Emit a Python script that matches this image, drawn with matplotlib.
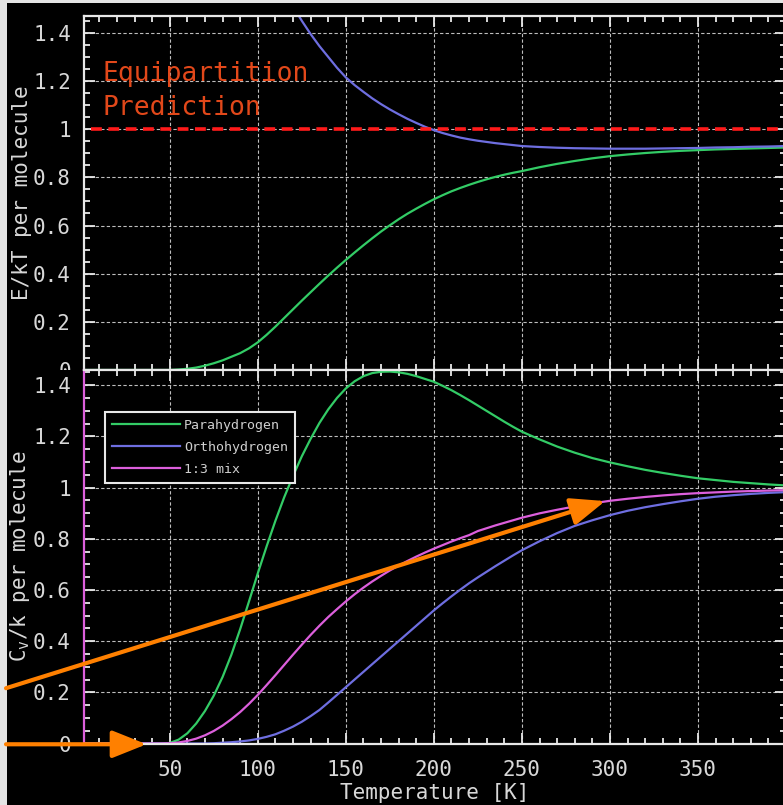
import numpy as np
import matplotlib
matplotlib.use("Agg")
import matplotlib.pyplot as plt
from matplotlib.patches import Rectangle
from matplotlib.transforms import Bbox, TransformedBbox

plt.rcParams['font.family'] = 'DejaVu Sans Mono'
plt.rcParams['mathtext.fontset'] = 'custom'
plt.rcParams['mathtext.rm'] = 'DejaVu Sans Mono'
plt.rcParams['mathtext.it'] = 'DejaVu Sans Mono'

# temperature grid [K]: 5 K steps below 250 K, 10 K above
T = np.concatenate([np.arange(0, 250, 5), np.arange(250, 401, 10)])

# rotational energy per molecule, E/kT
E_para = [0, 0, 0, 0, 0, 0, 0, 0, 0, 0,
          0.0, 0.002, 0.005, 0.01, 0.018, 0.028, 0.04, 0.055, 0.07, 0.09,
          0.115, 0.146, 0.18, 0.216, 0.252, 0.288, 0.323, 0.358, 0.392, 0.425,
          0.457, 0.488, 0.518, 0.547, 0.575, 0.601, 0.626, 0.649, 0.67, 0.69,
          0.709, 0.726, 0.742, 0.756, 0.769, 0.781, 0.792, 0.802, 0.811, 0.819,
          0.826, 0.842, 0.856, 0.868, 0.879, 0.888, 0.895, 0.901, 0.906, 0.91,
          0.913, 0.916, 0.918, 0.92, 0.922, 0.924]
T_ortho_E = np.concatenate([np.arange(115, 250, 5), np.arange(250, 401, 10)])
E_ortho = [1.58, 1.51, 1.45, 1.395, 1.345, 1.30, 1.255, 1.215, 1.183, 1.155,
           1.128, 1.104, 1.082, 1.062, 1.043, 1.026, 1.01, 0.996, 0.984, 0.974,
           0.965, 0.958, 0.952, 0.947, 0.942, 0.938, 0.934,
           0.93, 0.926, 0.923, 0.921, 0.92, 0.919, 0.919, 0.919, 0.92, 0.921,
           0.922, 0.924, 0.925, 0.927, 0.928, 0.93]
equip_T = [5, 400]
equip_E = [1.0, 1.0]

# heat capacity per molecule, Cv/k
Cv_para = [0, 0, 0, 0, 0, 0, 0, 0, 0, 0,
           0.002, 0.015, 0.04, 0.078, 0.127, 0.187, 0.26, 0.347, 0.447, 0.555,
           0.665, 0.77, 0.87, 0.962, 1.045, 1.122, 1.19, 1.252, 1.305, 1.35,
           1.387, 1.415, 1.435, 1.447, 1.452, 1.453, 1.45, 1.444, 1.435, 1.424,
           1.413, 1.397, 1.38, 1.361, 1.341, 1.32, 1.299, 1.278, 1.257, 1.237,
           1.218, 1.188, 1.16, 1.136, 1.115, 1.098, 1.083, 1.069, 1.057, 1.046,
           1.036, 1.029, 1.022, 1.017, 1.012, 1.008]
Cv_ortho = [0, 0, 0, 0, 0, 0, 0, 0, 0, 0,
            0, 0, 0, 0, 0, 0.001, 0.003, 0.005, 0.008, 0.012,
            0.018, 0.026, 0.036, 0.05, 0.066, 0.085, 0.107, 0.131, 0.16, 0.19,
            0.22, 0.25, 0.28, 0.31, 0.34, 0.37, 0.4, 0.43, 0.46, 0.49,
            0.52, 0.548, 0.575, 0.601, 0.626, 0.649, 0.671, 0.693, 0.714, 0.735,
            0.755, 0.79, 0.822, 0.85, 0.872, 0.892, 0.909, 0.923, 0.935, 0.946,
            0.956, 0.964, 0.97, 0.975, 0.979, 0.982]
Cv_mix = [0, 0, 0, 0, 0, 0, 0, 0, 0, 0,
          0.001, 0.004, 0.01, 0.019, 0.032, 0.049, 0.07, 0.095, 0.123, 0.155,
          0.19, 0.228, 0.267, 0.307, 0.347, 0.386, 0.424, 0.46, 0.494, 0.525,
          0.555, 0.583, 0.609, 0.633, 0.655, 0.676, 0.695, 0.713, 0.73, 0.746,
          0.761, 0.775, 0.789, 0.802, 0.814, 0.83, 0.841, 0.852, 0.862, 0.872,
          0.882, 0.899, 0.913, 0.926, 0.938, 0.948, 0.956, 0.963, 0.969, 0.974,
          0.978, 0.981, 0.984, 0.986, 0.988, 0.99]

xticks = [50, 100, 150, 200, 250, 300, 350]
yticks = [0, 0.2, 0.4, 0.6, 0.8, 1.0, 1.2, 1.4]
ytick_labels = ['0', '0.2', '0.4', '0.6', '0.8', '1', '1.2', '1.4']

green = '#33cc66'
blue = '#6e6ee0'
pink = '#dc5fdc'
orange = '#ff8000'
fg = '#e8e8e8'

W, H = 783, 805
fig = plt.figure(figsize=(W / 100, H / 100), dpi=100, facecolor='#e4e4e4')
fig.add_artist(Rectangle((7 / W, 0), 1, 1 - 3 / H, transform=fig.transFigure,
                         facecolor='black', edgecolor='none', zorder=-10))

left = 83.5 / W
width = (786 - 83.5) / W
split = 1 - 370 / H
ax1 = fig.add_axes([left, split, width, (370 - 16) / H])
ax2 = fig.add_axes([left, 1 - 743.5 / H, width, (743.5 - 370) / H])


def style(ax, ymax):
    ax.set_facecolor('black')
    ax.set_xlim(1, 400)
    ax.set_ylim(0, ymax)
    ax.set_xticks(xticks)
    ax.set_xticks(np.arange(10, 400, 10), minor=True)
    ax.set_yticks(yticks)
    ax.set_yticklabels(ytick_labels)
    ax.set_yticks(np.arange(0.05, ymax, 0.05), minor=True)
    ax.tick_params(which='both', direction='in', top=True, right=True,
                   colors=fg, labelcolor='#d8d8d8', labelsize=15, width=1.3)
    ax.tick_params(which='major', length=8)
    ax.tick_params(which='minor', length=4)
    ax.tick_params(axis='y', pad=9)
    ax.tick_params(axis='x', pad=12)
    for s in ax.spines.values():
        s.set_color(fg)
        s.set_linewidth(1.6)
    ax.grid(True, which='major', color='#bdbdbd', lw=0.8, ls=(0, (3, 2)))
    ax.yaxis.set_label_coords(-0.073, 0.5)


style(ax1, 1.47)
style(ax2, 1.459)
ax1.tick_params(axis='x', labelbottom=False)

# upper panel: rotational energy
ax1.plot(equip_T, equip_E, color='#ff1a1a', lw=2.6, ls=(0, (3, 1.8)), zorder=3)
ax1.plot(T, E_para, color=green, lw=1.6)
ax1.plot(T_ortho_E, E_ortho, color=blue, lw=1.6)
ax1.text(12, 1.285, 'Equipartition\nPrediction', color='#e2481a',
         fontsize=19, va='top', ha='left', linespacing=1.4)
ax1.set_ylabel('E/kT per molecule', color='#d8d8d8', fontsize=15)

# lower panel: heat capacity
ax2.plot(T, Cv_para, color=green, lw=1.6, label='Parahydrogen')
ax2.plot(T, Cv_ortho, color=blue, lw=1.6, label='Orthohydrogen')
ax2.plot(T, Cv_mix, color=pink, lw=1.6, label='1:3 mix')
ax2.spines['left'].set_color(pink)
ax2.set_ylabel(r'C$_\mathrm{v}$/k per molecule', color='#d8d8d8', fontsize=15)
ax2.set_xlabel('Temperature [K]', color='#d8d8d8', fontsize=15)
ax2.xaxis.set_label_coords(0.5, -0.106)

leg = ax2.legend(loc='upper left', bbox_to_anchor=(0.0306, 0.8875),
                 borderaxespad=0, fancybox=False, framealpha=1,
                 facecolor='black', edgecolor=fg, fontsize=9.5,
                 handlelength=5.2, labelspacing=0.7, handletextpad=0.3,
                 borderpad=0.5)
leg.get_frame().set_linewidth(1.5)
for t in leg.get_texts():
    t.set_color('#cfcfcf')

arrow = dict(arrowstyle='-|>,head_length=0.7,head_width=0.28', color=orange,
             lw=3, mutation_scale=30, shrinkA=0, shrinkB=0)
ax2.annotate('', xy=(297.3, 0.947), xytext=(-43, 0.216),
             arrowprops=arrow, annotation_clip=False, zorder=5)
ax2.annotate('', xy=(36.8, -0.003), xytext=(-43, -0.003),
             arrowprops=arrow, annotation_clip=False, zorder=5)

# the upper panel's zero label is cut off where the lower panel begins
clip = TransformedBbox(Bbox.from_extents(0, split, 1, 1), fig.transFigure)
fig.canvas.draw()
for lbl in ax1.get_yticklabels():
    lbl.set_clip_box(clip)
    lbl.set_clip_on(True)

fig.savefig('out.png', dpi=100, facecolor=fig.get_facecolor())
